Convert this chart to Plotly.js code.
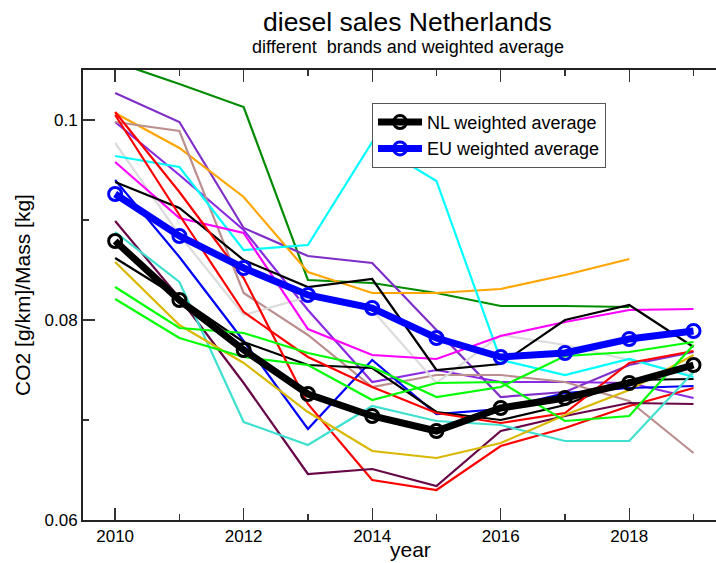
<!DOCTYPE html>
<html>
<head>
<meta charset="utf-8">
<script src="https://cdn.plot.ly/plotly-3.0.1.min.js"></script>
<style>
  html, body { margin: 0; padding: 0; background: #fff; }
  #chart { width: 716px; height: 563px; }
</style>
</head>
<body>
<div id="chart"></div>
<script>
// years on the x axis
var years = [2010, 2011, 2012, 2013, 2014, 2015, 2016, 2017, 2018, 2019];

// weighted averages (thick lines with circles)
var nlAverage = [0.0879, 0.0820, 0.0770, 0.0726, 0.0704, 0.0689, 0.0712, 0.0722, 0.0737, 0.0755];
var euAverage = [0.0926, 0.0884, 0.0852, 0.0825, 0.0812, 0.0782, 0.0763, 0.0767, 0.0781, 0.0789];

// individual brands (thin lines)
var brandGreen4 = [0.1058, 0.1036, 0.1013, 0.0840, 0.0837, 0.0827, 0.0814, 0.0814, 0.0813, null];
var brandIndigo = [0.1027, 0.0998, 0.0892, 0.0864, 0.0857, 0.0790, 0.0723, 0.0728, 0.0755, 0.0768];
var brandViolet = [0.0998, 0.0945, 0.0890, 0.0810, 0.0738, 0.0750, 0.0738, 0.0738, 0.0737, 0.0722];
var brandOrange = [0.1007, 0.0972, 0.0923, 0.0848, 0.0827, 0.0827, 0.0831, 0.0845, 0.0861, null];
var brandBrown = [0.0998, 0.0989, 0.0827, 0.0785, 0.0733, 0.0745, 0.0745, 0.0738, 0.0719, 0.0667];
var brandGrey = [0.0977, 0.0885, 0.0805, 0.0823, 0.0810, 0.0737, 0.0785, 0.0775, 0.0760, 0.0745];
var brandCyan = [0.0964, 0.0953, 0.0870, 0.0875, 0.0978, 0.0939, 0.0760, 0.0745, 0.0761, 0.0743];
var brandMagenta = [0.0958, 0.0902, 0.0887, 0.0791, 0.0765, 0.0761, 0.0784, 0.0798, 0.0810, 0.0811];
var brandBlue = [0.0940, 0.0863, 0.0779, 0.0691, 0.0760, 0.0706, 0.0711, 0.0727, 0.0732, 0.0734];
var brandBlackA = [0.0938, 0.0912, 0.0860, 0.0833, 0.0841, 0.0750, 0.0756, 0.0800, 0.0815, 0.0773];
var brandBlackB = [0.0862, 0.0822, 0.0778, 0.0755, 0.0752, 0.0708, 0.0700, 0.0715, 0.0740, 0.0741];
var brandRedA = [0.1008, 0.0928, 0.0842, 0.0716, 0.0640, 0.0630, 0.0674, 0.0692, 0.0714, 0.0732];
var brandRedB = [0.1005, 0.0905, 0.0808, 0.0763, 0.0733, 0.0707, 0.0697, 0.0707, 0.0757, 0.0769];
var brandMaroon = [0.0899, 0.0822, 0.0737, 0.0646, 0.0651, 0.0634, 0.0689, 0.0704, 0.0717, 0.0716];
var brandTurquoise = [0.0888, 0.0838, 0.0698, 0.0675, 0.0714, 0.0699, 0.0695, 0.0679, 0.0679, 0.0748];
var brandGold = [0.0858, 0.0795, 0.0757, 0.0708, 0.0669, 0.0662, 0.0677, 0.0705, 0.0730, 0.0765];
var brandLimeA = [0.0833, 0.0792, 0.0787, 0.0767, 0.0753, 0.0723, 0.0733, 0.0764, 0.0768, 0.0778];
var brandLimeB = [0.0821, 0.0782, 0.0763, 0.0755, 0.0720, 0.0737, 0.0738, 0.0699, 0.0704, 0.0775];

var brands = [
  [brandGreen4, '#008b00'],
  [brandIndigo, '#7f2fc8'],
  [brandViolet, '#8a2be2'],
  [brandOrange, '#ffa500'],
  [brandBrown, '#bc8f8f'],
  [brandGrey, '#dcdcdc'],
  [brandCyan, '#00ffff'],
  [brandMagenta, '#ff00ff'],
  [brandBlue, '#0000ff'],
  [brandBlackA, '#000000'],
  [brandBlackB, '#000000'],
  [brandRedA, '#ff0000'],
  [brandRedB, '#ff0000'],
  [brandMaroon, '#670748'],
  [brandTurquoise, '#40e0d0'],
  [brandGold, '#d8b800'],
  [brandLimeA, '#00ff00'],
  [brandLimeB, '#00ff00']
];

var data = brands.map(function (b) {
  return {
    x: years, y: b[0], type: 'scatter', mode: 'lines',
    line: {color: b[1], width: 2.2},
    showlegend: false, hoverinfo: 'skip'
  };
});

// averages on top
data.push({
  x: years, y: euAverage, type: 'scatter', mode: 'lines+markers',
  name: 'EU weighted average',
  line: {color: '#0000ff', width: 7},
  marker: {symbol: 'circle-open', size: 13, color: '#0000ff', line: {width: 3}}
});
data.push({
  x: years, y: nlAverage, type: 'scatter', mode: 'lines+markers',
  name: 'NL weighted average',
  line: {color: '#000000', width: 7},
  marker: {symbol: 'circle-open', size: 13, color: '#000000', line: {width: 3}}
});

var font = 'Liberation Sans, Arial, sans-serif';

var layout = {
  width: 716, height: 563,
  margin: {l: 83, r: 0, t: 70, b: 43},
  paper_bgcolor: '#fff', plot_bgcolor: '#fff',
  font: {family: font, color: '#000'},
  showlegend: true,
  legend: {
    x: 0.4566, y: 0.927, xanchor: 'left', yanchor: 'top',
    traceorder: 'reversed', itemwidth: 44,
    bgcolor: '#fff', bordercolor: '#555', borderwidth: 1,
    font: {size: 18, family: font}
  },
  xaxis: {
    range: [2009.5, 2019.35],
    tickmode: 'linear', tick0: 2010, dtick: 2,
    ticks: 'inside', ticklen: 12, tickwidth: 1.3, tickcolor: '#333',
    minor: {dtick: 1, ticks: 'inside', ticklen: 6, tickwidth: 1.3, tickcolor: '#333'},
    showline: true, linewidth: 2, linecolor: '#222', mirror: 'ticks',
    showgrid: false, zeroline: false,
    tickfont: {size: 17}
  },
  yaxis: {
    range: [0.06, 0.105],
    tickmode: 'linear', tick0: 0.06, dtick: 0.02,
    ticks: 'inside', ticklen: 12, tickwidth: 1.3, tickcolor: '#333',
    minor: {dtick: 0.01, ticks: 'inside', ticklen: 6, tickwidth: 1.3, tickcolor: '#333'},
    showline: true, linewidth: 2, linecolor: '#222',
    showgrid: false, zeroline: false,
    tickfont: {size: 17},
    title: {text: 'CO2 [g/km]/Mass [kg]', font: {size: 21}}
  },
  annotations: [
    {text: 'diesel sales Netherlands', xref: 'paper', yref: 'paper',
     x: 0.513, y: 1.1067, yanchor: 'middle', showarrow: false, font: {size: 26.5}},
    {text: 'different\u00a0 brands and weighted average', xref: 'paper', yref: 'paper',
     x: 0.513, y: 1.0511, yanchor: 'middle', showarrow: false, font: {size: 18}},
    {text: 'year', xref: 'paper', yref: 'paper',
     x: 0.518, y: -0.0655, yanchor: 'middle', showarrow: false, font: {size: 21}}
  ]
};

Plotly.newPlot('chart', data, layout, {displayModeBar: false, staticPlot: true});
</script>
</body>
</html>
